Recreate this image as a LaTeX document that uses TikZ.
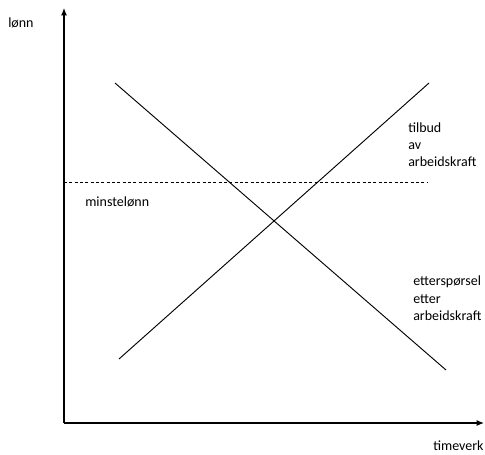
\documentclass[tikz,border=0pt]{standalone}
\usepackage{fontspec}
\setmainfont{Carlito}
\usetikzlibrary{arrows.meta}
\begin{document}
\begin{tikzpicture}[x=0.75pt,y=-0.75pt,
  lbl/.style={inner sep=0pt,align=left,font=\fontsize{10.5}{12.9}\selectfont,anchor=base west},
  axis/.style={line width=0.9pt,-{Latex[length=5.5pt,width=4.5pt]}},
  curve/.style={line width=0.7pt},
  floor/.style={line width=0.6pt,dash pattern=on 2.3pt off 1.7pt}]
\useasboundingbox (0,0) rectangle (485,454);
\coordinate (O) at (64,423);
\coordinate (Y) at (64,8);
\coordinate (X) at (484,423);
\coordinate (s1) at (119,359);
\coordinate (s2) at (429,83);
\coordinate (d1) at (115,83);
\coordinate (d2) at (446,370);
\coordinate (m1) at (64,182);
\coordinate (m2) at (427,182);
\draw[axis] (O) -- (Y);
\draw[axis] (O) -- (X);
\draw[curve] (s1) -- (s2);
\draw[curve] (d1) -- (d2);
\draw[floor] (m1) -- (m2);
\node[lbl] (lonn) at (8,27.5) {lønn};
\node[lbl] (time) at (433,450) {timeverk};
\node[lbl] (minst) at (85,206.5) {minstelønn};
\node[lbl,anchor=north west] (tilb) at (408,122.5) {tilbud\\av\\arbeidskraft};
\node[lbl,anchor=north west] (ette) at (413,276) {etterspørsel\\etter\\arbeidskraft};
\end{tikzpicture}
\end{document}
